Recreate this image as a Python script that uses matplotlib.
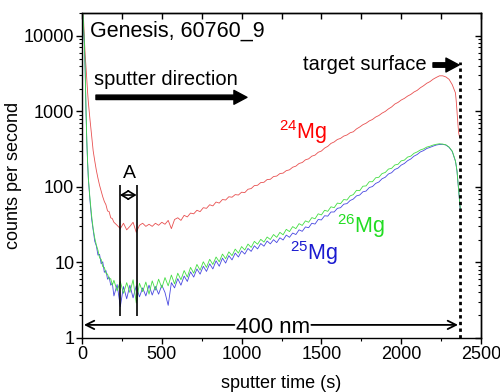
import numpy as np
import matplotlib
matplotlib.use("Agg")
import matplotlib.pyplot as plt
from matplotlib.ticker import LogLocator, NullFormatter, FixedFormatter, MultipleLocator

plt.rcParams['font.family'] = ['Liberation Sans', 'DejaVu Sans']
plt.rcParams['mathtext.default'] = 'regular'

# sputter time grid (s): dense start, 20 s steps in the middle, short tail
t_start = [0, 5, 10, 15, 20, 25, 30, 35, 40, 45, 50, 60, 70, 80, 90,
           100, 110, 120, 130, 140, 150, 160, 170, 180, 190]
t_mid = list(range(200, 2341, 20))
t_tail = [2345, 2350, 2355, 2360, 2365, 2370]
time_s = np.array(t_start + t_mid + t_tail)

mg24 = [30000, 24000, 16000, 9000, 5500, 3900, 2600, 1800, 1300, 1000, 780, 480, 300,
        220, 165, 130, 105, 88, 74, 64, 58, 48, 47, 39, 38,
        34, 31, 28, 33, 27, 30, 34, 25, 31, 33,
        30, 32, 30, 33, 31, 34, 32, 36, 28, 37,
        39, 36, 42, 40, 45, 44, 49, 47, 53, 52,
        58, 56, 63, 61, 68, 67, 74, 73, 79, 78,
        85, 84, 93, 95, 104, 105, 114, 115, 125, 126,
        137, 139, 150, 152, 164, 168, 182, 188, 204, 210,
        228, 235, 255, 263, 287, 298, 326, 344, 376, 393,
        424, 438, 470, 486, 520, 536, 585, 620, 665, 696,
        746, 780, 840, 880, 946, 996, 1076, 1143, 1248, 1312,
        1410, 1482, 1590, 1672, 1800, 1893, 2050, 2180, 2350, 2470,
        2660, 2810, 2950, 2950, 2850, 2650, 2250, 1750,
        1350, 950, 700, 520, 460, 450]

mg26 = [30000, 22000, 13000, 8000, 3500, 1100, 420, 220, 130, 95, 70, 42, 28,
        21, 17, 14.5, 11.5, 11.0, 8.8, 8.6, 7.2, 7.0, 6.0, 6.1, 5.0,
        5.8, 4.2, 5.6, 3.9, 5.4, 4.0, 5.9, 2.9, 5.3, 4.1,
        5.5, 3.8, 5.7, 4.3, 6.0, 4.6, 6.3, 4.9, 6.8, 5.2,
        7.2, 5.9, 7.8, 6.4, 8.6, 7.2, 9.4, 7.9, 10.2, 8.6,
        11.0, 9.4, 11.8, 10.2, 12.9, 11.2, 13.8, 12.3, 15.0, 13.3,
        16.2, 14.6, 17.5, 15.8, 19.0, 17.4, 20.2, 18.6, 21.7, 20.1,
        23.4, 21.5, 25.0, 23.2, 27.4, 25.6, 29.8, 28.0, 32.6, 30.9,
        35.5, 34.0, 39.2, 37.8, 44.0, 42.5, 49.0, 47.5, 54.5, 53.0,
        61, 60, 68, 67, 76, 79, 90, 89, 102, 103,
        117, 117, 132, 134, 150, 155, 172, 176, 195, 199,
        221, 226, 248, 255, 278, 290, 308, 318, 336, 345,
        358, 366, 372, 368, 360, 336, 296, 220,
        190, 160, 120, 90, 66, 52]

mg25 = [30000, 21000, 12000, 7500, 3300, 1000, 400, 210, 125, 90, 66, 38, 27,
        19, 16.5, 12.5, 12.8, 9.6, 10.2, 7.4, 7.8, 6.0, 6.4, 5.0, 5.3,
        3.6, 5.1, 2.6, 4.8, 3.3, 5.0, 3.4, 4.9, 3.5, 4.6,
        3.6, 5.0, 3.7, 4.8, 3.8, 5.0, 4.0, 2.7, 5.4, 4.6,
        6.1, 5.0, 6.6, 5.6, 7.5, 6.4, 8.2, 7.0, 8.9, 7.6,
        9.6, 8.2, 10.5, 8.9, 11.4, 9.8, 12.3, 10.8, 13.3, 11.8,
        14.2, 12.9, 15.3, 14.0, 16.6, 15.1, 17.8, 16.4, 19.2, 17.6,
        20.0, 18.3, 21.2, 19.8, 23.0, 21.5, 24.5, 23.4, 27.0, 25.8,
        29.5, 28.8, 33.0, 32.2, 37.0, 36.5, 41.5, 41.0, 46.5, 46.5,
        52, 53, 59, 60, 66, 69, 76, 78, 86, 88,
        98, 101, 111, 116, 128, 134, 148, 154, 170, 177,
        194, 204, 222, 234, 255, 268, 290, 302, 322, 333,
        346, 358, 364, 366, 358, 334, 294, 218,
        188, 158, 118, 88, 64, 50]

y_ticks = [1, 10, 100, 1000, 10000]
y_labels = ['1', '10', '100', '1000', '10000']

fig = plt.figure(figsize=(5, 3.92), dpi=100)
ax = fig.add_axes([0.164, 0.1378, 0.798, 0.829])

ax.plot(time_s, mg24, color='#e85050', lw=0.6)
ax.plot(time_s, mg25, color='#4848e0', lw=0.6)
ax.plot(time_s, mg26, color='#44dd44', lw=0.6)

ax.set_yscale('log')
ax.set_xlim(0, 2500)
ax.set_ylim(1, 20000)

# ticks: outward bottom/left, inward top/right
ax.xaxis.set_major_locator(MultipleLocator(500))
ax.xaxis.set_minor_locator(MultipleLocator(250))
ax.set_yticks(y_ticks)
ax.yaxis.set_major_formatter(FixedFormatter(y_labels))
ax.yaxis.set_minor_locator(LogLocator(base=10, subs=np.arange(2, 10), numticks=20))
ax.yaxis.set_minor_formatter(NullFormatter())
ax.tick_params(which='major', direction='out', length=4, width=1, labelsize=13, pad=1.5)
ax.tick_params(which='minor', direction='out', length=2.3, width=0.8)
ax.tick_params(axis='x', which='major', pad=2)

secx = ax.secondary_xaxis('top')
secx.xaxis.set_major_locator(MultipleLocator(250))
secx.xaxis.set_major_formatter(NullFormatter())
secx.tick_params(direction='in', length=4, width=1)

secy = ax.secondary_yaxis('right')
secy.yaxis.set_major_locator(LogLocator(base=10, numticks=10))
secy.yaxis.set_minor_locator(LogLocator(base=10, subs=np.arange(2, 10), numticks=20))
secy.yaxis.set_major_formatter(NullFormatter())
secy.yaxis.set_minor_formatter(NullFormatter())
secy.tick_params(which='major', direction='in', length=4, width=1)
secy.tick_params(which='minor', direction='in', length=2.3, width=0.8)

for s in list(ax.spines.values()) + [secx.spines['top'], secy.spines['right']]:
    s.set_linewidth(1.0)

ax.set_ylabel('counts per second', fontsize=13, labelpad=1)
ax.set_xlabel('sputter time (s)', fontsize=13, labelpad=8.5)

# annotations
ax.text(0.019, 0.926, 'Genesis, 60760_9', transform=ax.transAxes, fontsize=15.5, va='baseline')
ax.text(0.03, 0.778, 'sputter direction', transform=ax.transAxes, fontsize=14.5, va='baseline')
big_arrow = dict(arrowstyle='simple,head_length=0.47,head_width=0.5,tail_width=0.16',
                 color='k', mutation_scale=20, shrinkA=0, shrinkB=0)
ax.annotate('', xy=(0.4135, 0.7406), xytext=(0.035, 0.7406), xycoords='axes fraction',
            textcoords='axes fraction', arrowprops=big_arrow)
ax.text(0.554, 0.8246, 'target surface', transform=ax.transAxes, fontsize=14.5, va='baseline')
ax.annotate('', xy=(0.9449, 0.84), xytext=(0.8797, 0.84), xycoords='axes fraction',
            textcoords='axes fraction', arrowprops=big_arrow)
ax.vlines(2367, 1, 4530, colors='k', linestyles=(0, (1.2, 1.2)), lw=2)

ax.text(0.4937, 0.612, r'$^{24}$Mg', transform=ax.transAxes, fontsize=15.5, color='#ff0000', va='baseline')
ax.text(0.521, 0.239, r'$^{25}$Mg', transform=ax.transAxes, fontsize=15.5, color='#1a1ad0', va='baseline')
ax.text(0.639, 0.324, r'$^{26}$Mg', transform=ax.transAxes, fontsize=15.5, color='#22dd22', va='baseline')

# width of region A
ax.vlines([237.5, 342], 1.96, 106, colors='k', lw=1.2)
ax.annotate('', xy=(237.5, 78), xytext=(342, 78),
            arrowprops=dict(arrowstyle='<->,head_length=0.5,head_width=0.3', lw=1.2, color='k',
                            shrinkA=0, shrinkB=0))
ax.text(0.118, 0.492, 'A', transform=ax.transAxes, fontsize=14, ha='center', va='baseline')

# 400 nm depth
small_arrow = dict(arrowstyle='->,head_length=0.6,head_width=0.3', lw=1.3, color='k',
                   shrinkA=0, shrinkB=0)
ax.annotate('', xy=(12, 1.49), xytext=(955, 1.49), arrowprops=small_arrow)
ax.annotate('', xy=(2356, 1.49), xytext=(1437, 1.49), arrowprops=small_arrow)
ax.text(0.48, 0.0154, '400 nm', transform=ax.transAxes, fontsize=16, ha='center', va='baseline')

fig.savefig('out.png', dpi=100)
